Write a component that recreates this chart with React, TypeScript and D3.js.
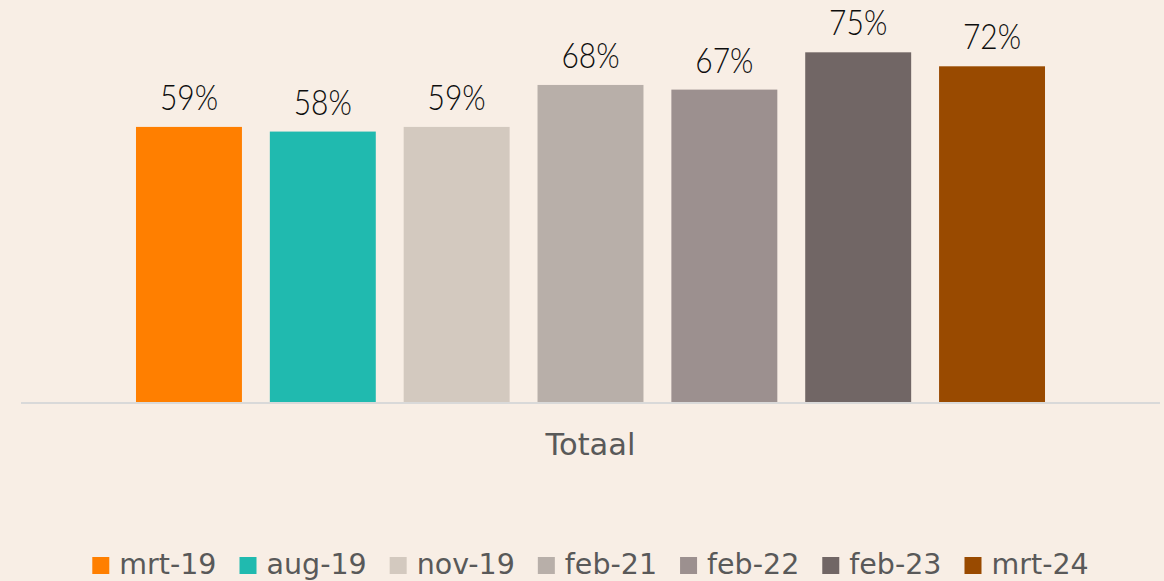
import React, { useEffect, useRef } from "react";
import * as d3 from "d3";

const categories = ["Totaal"];
const seriesNames = ["mrt-19", "aug-19", "nov-19", "feb-21", "feb-22", "feb-23", "mrt-24"];
const seriesValues = [0.59, 0.58, 0.59, 0.68, 0.67, 0.75, 0.72];
const seriesColors = ["#FF7F00", "#20BAAF", "#D3C9BF", "#B8AFA9", "#9C908F", "#716665", "#994A00"];

const W = 1164;
const H = 581;

export default function App() {
  const ref = useRef<SVGSVGElement | null>(null);

  useEffect(() => {
    document.body.style.margin = "0";
    const svg = d3.select(ref.current);
    svg.selectAll("*").remove();

    svg.append("rect").attr("width", W).attr("height", H).attr("fill", "#F8EEE5");

    const x0 = d3.scaleBand<string>().domain(categories).range([21, 1160]).paddingInner(0).paddingOuter(0.1265);
    const x1 = d3.scaleBand<string>().domain(seriesNames).range([0, x0.bandwidth()]).paddingInner(0.2084).paddingOuter(0);
    const y = d3.scaleLinear().domain([0, 0.8]).range([402, 29]);

    const g = svg.append("g");
    categories.forEach((cat) => {
      const gx = x0(cat)!;
      seriesNames.forEach((s, i) => {
        const v = seriesValues[i];
        g.append("rect")
          .attr("x", gx + x1(s)!)
          .attr("y", y(v))
          .attr("width", x1.bandwidth())
          .attr("height", y(0) - y(v))
          .attr("fill", seriesColors[i]);
        const lx = gx + x1(s)! + x1.bandwidth() / 2;
        const ly = y(v) - 17;
        g.append("text")
          .attr("transform", `translate(${lx},${ly}) scale(1,1.18)`)
          .attr("text-anchor", "middle")
          .attr("font-family", "Lato, 'DejaVu Sans', sans-serif")
          .attr("font-weight", 300)
          .attr("font-size", 30)
          .attr("fill", "#0D0D0D")
          .text(d3.format(".0%")(v));
      });
      g.append("text")
        .attr("x", gx + x0.bandwidth() / 2)
        .attr("y", 455)
        .attr("text-anchor", "middle")
        .attr("font-family", "'DejaVu Sans', sans-serif")
        .attr("font-size", 30.5)
        .attr("fill", "#595959")
        .text(cat);
    });

    svg.append("line")
      .attr("x1", 21).attr("x2", 1160)
      .attr("y1", 403).attr("y2", 403)
      .attr("stroke", "#D9D9D9").attr("stroke-width", 2);

    // legend
    const lg = svg.append("g");
    const items: { g: any; w: number }[] = [];
    seriesNames.forEach((s, i) => {
      const ig = lg.append("g");
      ig.append("rect").attr("x", 0).attr("y", 557).attr("width", 17).attr("height", 17).attr("fill", seriesColors[i]);
      const t = ig.append("text")
        .attr("x", 27).attr("y", 574)
        .attr("font-family", "'DejaVu Sans', sans-serif")
        .attr("font-size", 28.5)
        .attr("fill", "#595959")
        .text(s);
      const tw = (t.node() as SVGTextElement).getComputedTextLength();
      items.push({ g: ig, w: 27 + tw });
    });
    const gap = 23;
    const total = d3.sum(items, (d) => d.w) + gap * (items.length - 1);
    let cx = 590.5 - total / 2;
    items.forEach((it) => {
      it.g.attr("transform", `translate(${cx},0)`);
      cx += it.w + gap;
    });
  }, []);

  return <svg ref={ref} width={W} height={H} style={{ display: "block" }} />;
}
